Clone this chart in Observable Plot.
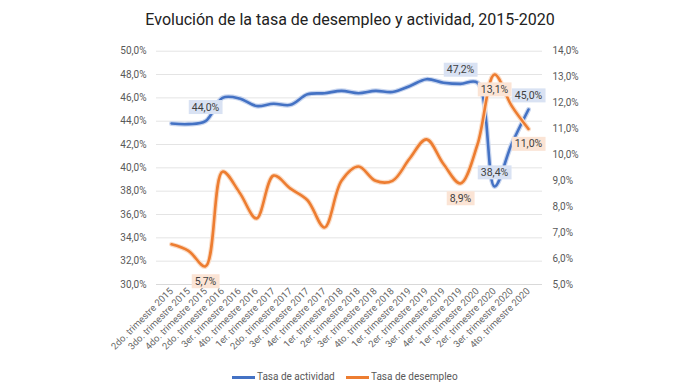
<!DOCTYPE html>
<html><head><meta charset="utf-8">
<script src="https://cdn.jsdelivr.net/npm/d3@7"></script>
<script src="https://cdn.jsdelivr.net/npm/@observablehq/plot@0.6"></script>
<style>
body{margin:0;background:#fff;width:680px;height:383px;overflow:hidden;font-family:Roboto,sans-serif;position:relative}
#title{position:absolute;left:0;top:0;width:680px;height:40px;line-height:40px;text-align:center;font-size:16px;color:#222;padding-left:20px;box-sizing:border-box}
#chart{position:absolute;left:0;top:40px}
#legend{position:absolute;top:369px;left:0;width:680px;height:16px;font-size:10px;color:#595959;line-height:16px}
.sw{position:absolute;top:7px;width:23px;height:2.5px}
.lt{position:absolute;top:0}
</style></head><body>
<div id="title">Evolución de la tasa de desempleo y actividad, 2015-2020</div>
<div id="chart"></div>
<div id="legend">
  <div class="sw" style="left:232px;background:#4472C4"></div><div class="lt" style="left:257px">Tasa de actividad</div>
  <div class="sw" style="left:346px;background:#ED7D31"></div><div class="lt" style="left:371px">Tasa de desempleo</div>
</div>
<script>
const quarters = [
  "2do. trimestre 2015","3do. trimestre 2015","4do. trimestre 2015","2do. trimestre 2016",
  "3er. trimestre 2016","4to. trimestre 2016","1er. trimestre 2017","2do. trimestre 2017",
  "3er. trimestre 2017","4er. trimestre 2017","1er. trimestre 2018","2er. trimestre 2018",
  "3er. trimestre 2018","4to. trimestre 2018","1er. trimestre 2019","2er. trimestre 2019",
  "3er. trimestre 2019","4er. trimestre 2019","1er. trimestre 2020","2er. trimestre 2020",
  "3er. trimestre 2020","4to. trimestre 2020"
];
// Tasa de actividad (left axis, %)
const actividad = [43.8, 43.75, 44.0, 46.0, 45.95, 45.3, 45.5, 45.4, 46.3, 46.4, 46.6, 46.4,
                   46.6, 46.5, 47.0, 47.6, 47.3, 47.2, 47.3, 38.4, 42.0, 45.0];
// Tasa de desempleo (right axis, %)
const desempleo = [6.55, 6.3, 5.7, 9.35, 8.55, 7.55, 9.2, 8.7, 8.25, 7.2, 9.0, 9.55,
                   9.0, 9.0, 9.85, 10.6, 9.65, 8.9, 10.4, 13.1, 11.9, 11.0];
const labelIndexes = [2, 17, 19, 21];
const leftTicks = [30, 32, 34, 36, 38, 40, 42, 44, 46, 48, 50];
const rightTicks = [5, 6, 7, 8, 9, 10, 11, 12, 13, 14];

const L0 = 30, L1 = 50, R0 = 5, R1 = 14;
const toLeft = r => L0 + (r - R0) * (L1 - L0) / (R1 - R0);
const toRight = l => R0 + (l - L0) * (R1 - R0) / (L1 - L0);
const fmt = v => d3.format(".1f")(v).replace(".", ",") + "%";

const rows = quarters.map((q, i) => ({q, act: actividad[i], des: desempleo[i]}));
const labelRows = labelIndexes.map(i => rows[i]);

const grey = "#595959";
const chart = Plot.plot({
  width: 680, height: 327,
  marginLeft: 156, marginRight: 138, marginTop: 10.7, marginBottom: 83,
  style: {fontFamily: "Roboto, sans-serif", background: "#fff"},
  x: {type: "point", domain: quarters, padding: 0.5},
  y: {domain: [L0, L1]},
  marks: [
    Plot.ruleY(leftTicks, {stroke: "#e4e4e4", strokeWidth: 1}),
    Plot.ruleY([L0], {stroke: "#d9d9d9", strokeWidth: 1}),
    Plot.axisY(leftTicks, {anchor: "left", tickSize: 0, tickPadding: 10, tickFormat: fmt, fontSize: 10, fill: grey, label: null}),
    Plot.axisY(rightTicks.map(toLeft), {anchor: "right", tickSize: 0, tickPadding: 10, tickFormat: d => fmt(toRight(d)), fontSize: 10, fill: grey, label: null}),
    Plot.axisX({tickRotate: -45, tickSize: 0, tickPadding: 5, fontSize: 9.5, fill: "#666", label: null}),
    Plot.line(rows, {x: "q", y: "act", stroke: "#c9d6ef", strokeWidth: 5, curve: "catmull-rom"}),
    Plot.line(rows, {x: "q", y: "act", stroke: "#4472C4", strokeWidth: 2.6, curve: "catmull-rom"}),
    Plot.line(rows, {x: "q", y: d => toLeft(d.des), stroke: "#fadcc6", strokeWidth: 5, curve: "catmull-rom"}),
    Plot.line(rows, {x: "q", y: d => toLeft(d.des), stroke: "#ED7D31", strokeWidth: 2.6, curve: "catmull-rom"}),
    Plot.text(labelRows, {x: "q", y: "act", dy: -14, text: d => fmt(d.act), fill: "#404040", fontSize: 10.5, className: "lbl-a"}),
    Plot.text(labelRows, {x: "q", y: d => toLeft(d.des), dy: 15, text: d => fmt(d.des), fill: "#404040", fontSize: 10.5, className: "lbl-d"})
  ]
});
document.getElementById("chart").appendChild(chart);

function boxes(g, fill) {
  if (!g) return;
  g.querySelectorAll("text").forEach(t => {
    const b = t.getBBox();
    const r = document.createElementNS("http://www.w3.org/2000/svg", "rect");
    r.setAttribute("x", b.x - 3);
    r.setAttribute("y", b.y - 0.5);
    r.setAttribute("width", b.width + 6);
    r.setAttribute("height", b.height + 1);
    r.setAttribute("fill", fill);
    const tr = t.getAttribute("transform");
    if (tr) r.setAttribute("transform", tr);
    t.parentNode.insertBefore(r, t);
  });
}
let ga = chart.querySelector("g.lbl-a"), gd = chart.querySelector("g.lbl-d");
if (!ga || !gd) {
  const gs = chart.querySelectorAll('g[aria-label="text"]');
  ga = gs[0]; gd = gs[1];
}
boxes(ga, "#d9e2f3");
boxes(gd, "#fbe4d5");
</script>
</body></html>
